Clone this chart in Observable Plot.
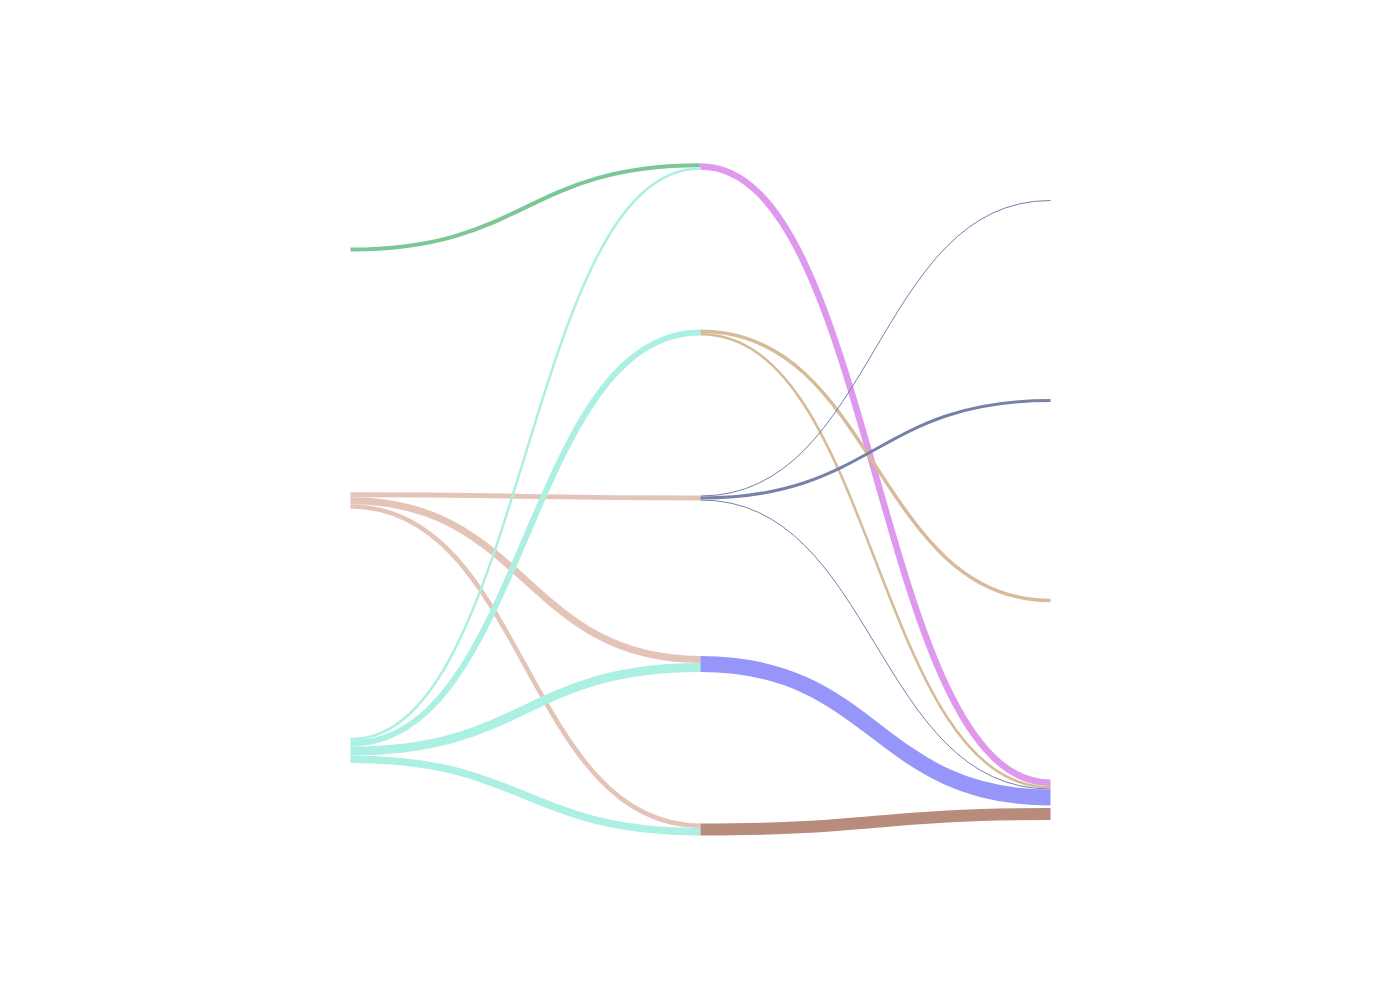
<!DOCTYPE html>
<html><head><meta charset="utf-8">
<script src="https://cdn.jsdelivr.net/npm/d3@7"></script>
<script src="https://cdn.jsdelivr.net/npm/@observablehq/plot@0.6"></script>
<style>html,body{margin:0;padding:0;background:#fff;overflow:hidden}</style>
</head><body><div id="chart"></div>
<script>
// Nodes (layer 0, 1, 2) with vertical centre positions (0 = top, 1 = bottom)
const nodeIds   = ["A", "B", "C", "P", "Q", "R", "S", "T", "X", "Y", "W", "Z", "V"];
const nodeLayer = [0, 0, 0, 1, 1, 1, 1, 1, 2, 2, 2, 2, 2];
const nodeY     = [0.249, 0.5, 0.75, 0.166, 0.332, 0.4975, 0.6635, 0.829, 0.2, 0.4, 0.6, 0.792, 0.8135];
const layerX    = [0, 0.5, 1];

// Links
const linkSource = ["A", "B", "B", "B", "C", "C", "C", "C", "P", "Q", "Q", "R", "R", "R", "S", "T"];
const linkTarget = ["P", "R", "S", "T", "P", "Q", "S", "T", "Z", "W", "Z", "X", "Y", "Z", "Z", "V"];
const linkValue  = [4, 5, 7, 4.5, 2.5, 6, 9, 7.5, 6.5, 3.5, 2.5, 1, 3, 1, 16, 12];

// Link colour by source node
const sourceColor = {
  A: "#7bc795", B: "#e4c4b8", C: "#acefe3", P: "#de98ee",
  Q: "#d6bb98", R: "#7880a8", S: "#9595fa", T: "#b88c7c"
};

const UNIT = 0.001; // y-domain units per value unit
const W = 1400, H = 1000, MT = 0, MB = 0, ML = 350, MR = 350;

const links = linkSource.map((s, i) => ({i, source: s, target: linkTarget[i], value: linkValue[i]}));
const nodes = nodeIds.map((id, j) => ({id, layer: nodeLayer[j], y: nodeY[j], out: [], inn: []}));
const byId = Object.fromEntries(nodes.map(n => [n.id, n]));
links.forEach(l => { byId[l.source].out.push(l); byId[l.target].inn.push(l); });
nodes.forEach(n => {
  const h = Math.max(d3.sum(n.out, l => l.value), d3.sum(n.inn, l => l.value)) * UNIT;
  let y0 = n.y - h / 2;
  n.out.slice().sort((a, b) => byId[a.target].y - byId[b.target].y)
    .forEach(l => { l.sy0 = y0; y0 += l.value * UNIT; l.sy1 = y0; });
  y0 = n.y - h / 2;
  n.inn.slice().sort((a, b) => byId[a.source].y - byId[b.source].y)
    .forEach(l => { l.ty0 = y0; y0 += l.value * UNIT; l.ty1 = y0; });
});

// pixel thickness derived from the library's y scale
const yScale = Plot.scale({y: {domain: [0, 1], range: [MT, H - MB]}});
const px = v => Math.abs(yScale.apply(v * UNIT) - yScale.apply(0));

const linkData = links.map(l => ({
  x1: layerX[byId[l.source].layer],
  x2: layerX[byId[l.target].layer],
  y1: (l.sy0 + l.sy1) / 2,
  y2: (l.ty0 + l.ty1) / 2,
  width: px(l.value),
  color: sourceColor[l.source]
}));

const chart = Plot.plot({
  width: W,
  height: H,
  marginTop: MT,
  marginBottom: MB,
  marginLeft: ML,
  marginRight: MR,
  x: {domain: [0, 1], axis: null},
  y: {domain: [0, 1], reverse: true, axis: null},
  color: {type: "identity"},
  marks: [
    Plot.link(linkData, {x1: "x1", y1: "y1", x2: "x2", y2: "y2", stroke: "color",
      strokeWidth: "width", curve: "bump-x", strokeLinecap: "butt"})
  ]
});
document.getElementById("chart").appendChild(chart);
</script>
</body></html>
